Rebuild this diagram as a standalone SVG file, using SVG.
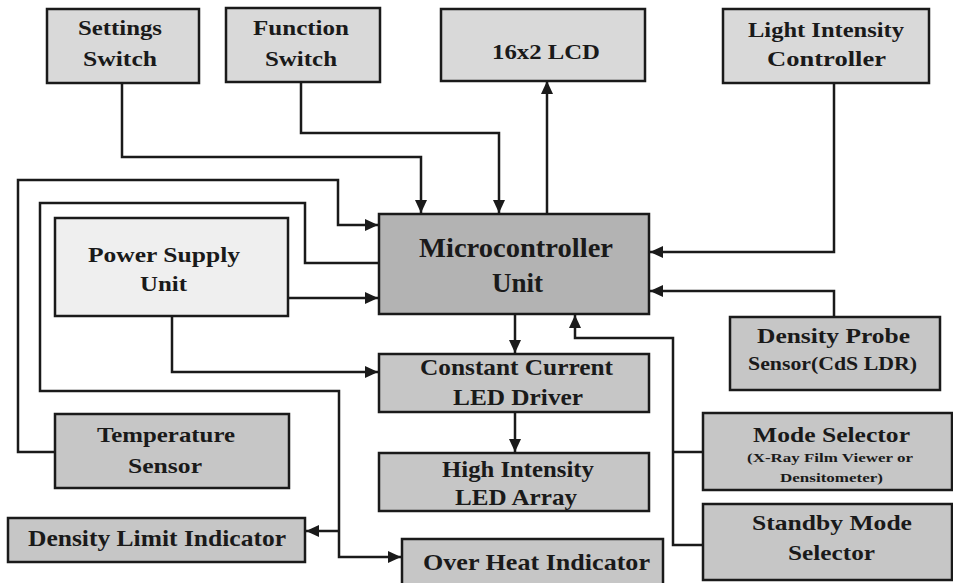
<svg xmlns="http://www.w3.org/2000/svg" width="953" height="583" viewBox="0 0 953 583">
<style>
.box{stroke:#1a1a1a;stroke-width:2.5}
.top{fill:#d9d9d9}
.mcu{fill:#b3b3b3}
.psu{fill:#efefef}
.mid{fill:#c6c6c6}
.t{font-family:"Liberation Serif","Times New Roman",serif;font-weight:bold;fill:#1a1a1a}
.conn{fill:none;stroke:#1a1a1a;stroke-width:2.5}
</style>
<defs>
<marker id="arr" markerUnits="userSpaceOnUse" markerWidth="14" markerHeight="14" refX="13" refY="6" orient="auto">
<path d="M0,0 L13,6 L0,12 Z" fill="#1a1a1a"/>
</marker>
</defs>
<rect width="953" height="583" fill="#ffffff"/>
<g id="connectors">
<path class="conn" d="M122,83 V157 H421 V213" marker-end="url(#arr)"/>
<path class="conn" d="M301,82 V133 H499 V213" marker-end="url(#arr)"/>
<path class="conn" d="M547,214 V81" marker-end="url(#arr)"/>
<path class="conn" d="M834,83 V252 H650" marker-end="url(#arr)"/>
<path class="conn" d="M834,317 V291 H650" marker-end="url(#arr)"/>
<path class="conn" d="M55,452 H18 V180 H338 V225 H378" marker-end="url(#arr)"/>
<path class="conn" d="M379,263 H305 V203 H40 V391 H339 V557 H401" marker-end="url(#arr)"/>
<path class="conn" d="M339,531 H306" marker-end="url(#arr)"/>
<path class="conn" d="M288,298 H378" marker-end="url(#arr)"/>
<path class="conn" d="M172,316 V372 H378" marker-end="url(#arr)"/>
<path class="conn" d="M515,314 V353" marker-end="url(#arr)"/>
<path class="conn" d="M515,412 V452" marker-end="url(#arr)"/>
<path class="conn" d="M703,452 H673"/>
<path class="conn" d="M703,545 H673 V338 H575 V315" marker-end="url(#arr)"/>
</g>
<g id="settings">
<rect class="box top" x="47" y="9" width="152" height="74"/>
<text class="t" x="78" y="35" font-size="20" textLength="84" lengthAdjust="spacingAndGlyphs">Settings</text>
<text class="t" x="83" y="66" font-size="20" textLength="74" lengthAdjust="spacingAndGlyphs">Switch</text>
</g>
<g id="function">
<rect class="box top" x="226" y="8" width="154" height="74"/>
<text class="t" x="253" y="35" font-size="20" textLength="96" lengthAdjust="spacingAndGlyphs">Function</text>
<text class="t" x="265" y="66" font-size="20" textLength="72" lengthAdjust="spacingAndGlyphs">Switch</text>
</g>
<g id="lcd">
<rect class="box top" x="441" y="9" width="204" height="72"/>
<text class="t" x="492" y="59" font-size="21" textLength="108" lengthAdjust="spacingAndGlyphs">16x2 LCD</text>
</g>
<g id="light">
<rect class="box top" x="723" y="9" width="206" height="74"/>
<text class="t" x="748" y="37" font-size="20" textLength="156" lengthAdjust="spacingAndGlyphs">Light Intensity</text>
<text class="t" x="767" y="66" font-size="20" textLength="119" lengthAdjust="spacingAndGlyphs">Controller</text>
</g>
<g id="mcu">
<rect class="box mcu" x="379" y="214" width="270" height="100"/>
<text class="t" x="419" y="257" font-size="27" textLength="194" lengthAdjust="spacingAndGlyphs">Microcontroller</text>
<text class="t" x="492" y="292" font-size="27" textLength="51" lengthAdjust="spacingAndGlyphs">Unit</text>
</g>
<g id="psu">
<rect class="box psu" x="55" y="218" width="233" height="98"/>
<text class="t" x="88" y="262" font-size="22" textLength="152" lengthAdjust="spacingAndGlyphs">Power Supply</text>
<text class="t" x="140" y="291" font-size="22" textLength="47" lengthAdjust="spacingAndGlyphs">Unit</text>
</g>
<g id="driver">
<rect class="box mid" x="379" y="354" width="270" height="58"/>
<text class="t" x="420" y="375" font-size="24" textLength="193" lengthAdjust="spacingAndGlyphs">Constant Current</text>
<text class="t" x="453" y="405" font-size="24" textLength="130" lengthAdjust="spacingAndGlyphs">LED Driver</text>
</g>
<g id="ledarray">
<rect class="box mid" x="379" y="453" width="270" height="58"/>
<text class="t" x="442" y="477" font-size="23" textLength="152" lengthAdjust="spacingAndGlyphs">High Intensity</text>
<text class="t" x="455" y="505" font-size="23" textLength="122" lengthAdjust="spacingAndGlyphs">LED Array</text>
</g>
<g id="overheat">
<rect class="box mid" x="402" y="539" width="261" height="50"/>
<text class="t" x="423" y="570" font-size="23" textLength="227" lengthAdjust="spacingAndGlyphs">Over Heat Indicator</text>
</g>
<g id="temperature">
<rect class="box mid" x="55" y="414" width="234" height="74"/>
<text class="t" x="97" y="442" font-size="22" textLength="138" lengthAdjust="spacingAndGlyphs">Temperature</text>
<text class="t" x="128" y="473" font-size="22" textLength="74" lengthAdjust="spacingAndGlyphs">Sensor</text>
</g>
<g id="densitylimit">
<rect class="box mid" x="8" y="518" width="297" height="44"/>
<text class="t" x="28" y="546" font-size="23" textLength="258" lengthAdjust="spacingAndGlyphs">Density Limit Indicator</text>
</g>
<g id="densityprobe">
<rect class="box mid" x="730" y="317" width="210" height="73"/>
<text class="t" x="757" y="343" font-size="22" textLength="153" lengthAdjust="spacingAndGlyphs">Density Probe</text>
<text class="t" x="748" y="370" font-size="19" textLength="169" lengthAdjust="spacingAndGlyphs">Sensor(CdS LDR)</text>
</g>
<g id="modeselector">
<rect class="box mid" x="703" y="413" width="249" height="77"/>
<text class="t" x="753" y="442" font-size="22" textLength="157" lengthAdjust="spacingAndGlyphs">Mode Selector</text>
<text class="t" x="747" y="462" font-size="12" textLength="166" lengthAdjust="spacingAndGlyphs">(X-Ray Film Viewer or</text>
<text class="t" x="780" y="482" font-size="12" textLength="103" lengthAdjust="spacingAndGlyphs">Densitometer)</text>
</g>
<g id="standby">
<rect class="box mid" x="703" y="504" width="249" height="76"/>
<text class="t" x="752" y="530" font-size="22" textLength="160" lengthAdjust="spacingAndGlyphs">Standby Mode</text>
<text class="t" x="788" y="560" font-size="22" textLength="87" lengthAdjust="spacingAndGlyphs">Selector</text>
</g>
</svg>
